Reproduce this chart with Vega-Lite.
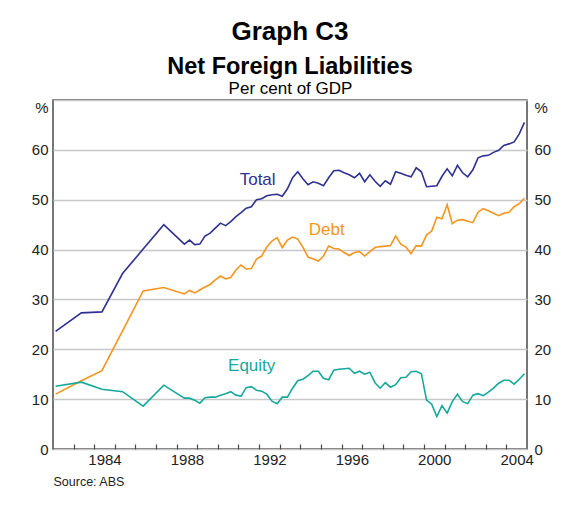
{
  "$schema": "https://vega.github.io/schema/vega-lite/v6.json",
  "width": 474,
  "height": 349,
  "autosize": "none",
  "padding": {"left": 53, "top": 100, "right": 43, "bottom": 58},
  "background": "white",
  "config": {
    "view": {"stroke": "#4a4a4a", "strokeWidth": 1.5},
    "font": "Liberation Sans"
  },
  "title": {
    "text": "Graph C3",
    "subtitle": "Net Foreign Liabilities",
    "fontSize": 26,
    "fontWeight": "bold",
    "color": "#000000",
    "subtitleFontSize": 23.5,
    "subtitleFontWeight": "bold",
    "subtitleColor": "#000000",
    "subtitleFont": "Liberation Sans",
    "font": "Liberation Sans",
    "anchor": "middle",
    "offset": 1,
    "subtitlePadding": 10
  },
  "datasets": {
    "series": [
      {"s": "Total", "t": 1982.125, "v": 23.6},
      {"s": "Total", "t": 1983.375, "v": 27.3},
      {"s": "Total", "t": 1984.375, "v": 27.5},
      {"s": "Total", "t": 1985.375, "v": 35.2},
      {"s": "Total", "t": 1986.375, "v": 40.1},
      {"s": "Total", "t": 1987.375, "v": 45.0},
      {"s": "Total", "t": 1988.375, "v": 41.1},
      {"s": "Total", "t": 1988.625, "v": 41.9},
      {"s": "Total", "t": 1988.875, "v": 41.0},
      {"s": "Total", "t": 1989.125, "v": 41.1},
      {"s": "Total", "t": 1989.375, "v": 42.7},
      {"s": "Total", "t": 1989.625, "v": 43.3},
      {"s": "Total", "t": 1989.875, "v": 44.3},
      {"s": "Total", "t": 1990.125, "v": 45.3},
      {"s": "Total", "t": 1990.375, "v": 44.8},
      {"s": "Total", "t": 1990.625, "v": 45.6},
      {"s": "Total", "t": 1990.875, "v": 46.6},
      {"s": "Total", "t": 1991.125, "v": 47.4},
      {"s": "Total", "t": 1991.375, "v": 48.3},
      {"s": "Total", "t": 1991.625, "v": 48.6},
      {"s": "Total", "t": 1991.875, "v": 50.0},
      {"s": "Total", "t": 1992.125, "v": 50.2},
      {"s": "Total", "t": 1992.375, "v": 50.8},
      {"s": "Total", "t": 1992.625, "v": 51.0},
      {"s": "Total", "t": 1992.875, "v": 51.1},
      {"s": "Total", "t": 1993.125, "v": 50.7},
      {"s": "Total", "t": 1993.375, "v": 52.2},
      {"s": "Total", "t": 1993.625, "v": 54.4},
      {"s": "Total", "t": 1993.875, "v": 55.6},
      {"s": "Total", "t": 1994.125, "v": 54.2},
      {"s": "Total", "t": 1994.375, "v": 53.0},
      {"s": "Total", "t": 1994.625, "v": 53.6},
      {"s": "Total", "t": 1994.875, "v": 53.3},
      {"s": "Total", "t": 1995.125, "v": 52.8},
      {"s": "Total", "t": 1995.375, "v": 54.4},
      {"s": "Total", "t": 1995.625, "v": 55.8},
      {"s": "Total", "t": 1995.875, "v": 55.9},
      {"s": "Total", "t": 1996.125, "v": 55.4},
      {"s": "Total", "t": 1996.375, "v": 55.0},
      {"s": "Total", "t": 1996.625, "v": 54.4},
      {"s": "Total", "t": 1996.875, "v": 55.3},
      {"s": "Total", "t": 1997.125, "v": 53.6},
      {"s": "Total", "t": 1997.375, "v": 55.0},
      {"s": "Total", "t": 1997.625, "v": 53.7},
      {"s": "Total", "t": 1997.875, "v": 52.7},
      {"s": "Total", "t": 1998.125, "v": 53.8},
      {"s": "Total", "t": 1998.375, "v": 53.1},
      {"s": "Total", "t": 1998.625, "v": 55.6},
      {"s": "Total", "t": 1998.875, "v": 55.3},
      {"s": "Total", "t": 1999.125, "v": 54.9},
      {"s": "Total", "t": 1999.375, "v": 54.6},
      {"s": "Total", "t": 1999.625, "v": 56.4},
      {"s": "Total", "t": 1999.875, "v": 55.6},
      {"s": "Total", "t": 2000.125, "v": 52.6},
      {"s": "Total", "t": 2000.375, "v": 52.7},
      {"s": "Total", "t": 2000.625, "v": 52.8},
      {"s": "Total", "t": 2000.875, "v": 54.7},
      {"s": "Total", "t": 2001.125, "v": 56.2},
      {"s": "Total", "t": 2001.375, "v": 54.8},
      {"s": "Total", "t": 2001.625, "v": 56.9},
      {"s": "Total", "t": 2001.875, "v": 55.4},
      {"s": "Total", "t": 2002.125, "v": 54.6},
      {"s": "Total", "t": 2002.375, "v": 56.0},
      {"s": "Total", "t": 2002.625, "v": 58.4},
      {"s": "Total", "t": 2002.875, "v": 58.8},
      {"s": "Total", "t": 2003.125, "v": 58.9},
      {"s": "Total", "t": 2003.375, "v": 59.5},
      {"s": "Total", "t": 2003.625, "v": 59.9},
      {"s": "Total", "t": 2003.875, "v": 60.9},
      {"s": "Total", "t": 2004.125, "v": 61.2},
      {"s": "Total", "t": 2004.375, "v": 61.6},
      {"s": "Total", "t": 2004.625, "v": 63.2},
      {"s": "Total", "t": 2004.875, "v": 65.5},
      {"s": "Debt", "t": 1982.125, "v": 11.0},
      {"s": "Debt", "t": 1983.375, "v": 13.7},
      {"s": "Debt", "t": 1984.375, "v": 15.7},
      {"s": "Debt", "t": 1985.375, "v": 23.7},
      {"s": "Debt", "t": 1986.375, "v": 31.7},
      {"s": "Debt", "t": 1987.375, "v": 32.4},
      {"s": "Debt", "t": 1988.375, "v": 31.1},
      {"s": "Debt", "t": 1988.625, "v": 31.8},
      {"s": "Debt", "t": 1988.875, "v": 31.3},
      {"s": "Debt", "t": 1989.125, "v": 31.9},
      {"s": "Debt", "t": 1989.375, "v": 32.5},
      {"s": "Debt", "t": 1989.625, "v": 33.0},
      {"s": "Debt", "t": 1989.875, "v": 33.9},
      {"s": "Debt", "t": 1990.125, "v": 34.7},
      {"s": "Debt", "t": 1990.375, "v": 34.1},
      {"s": "Debt", "t": 1990.625, "v": 34.4},
      {"s": "Debt", "t": 1990.875, "v": 35.9},
      {"s": "Debt", "t": 1991.125, "v": 36.9},
      {"s": "Debt", "t": 1991.375, "v": 36.1},
      {"s": "Debt", "t": 1991.625, "v": 36.2},
      {"s": "Debt", "t": 1991.875, "v": 38.1},
      {"s": "Debt", "t": 1992.125, "v": 38.7},
      {"s": "Debt", "t": 1992.375, "v": 40.5},
      {"s": "Debt", "t": 1992.625, "v": 41.7},
      {"s": "Debt", "t": 1992.875, "v": 42.4},
      {"s": "Debt", "t": 1993.125, "v": 40.4},
      {"s": "Debt", "t": 1993.375, "v": 41.9},
      {"s": "Debt", "t": 1993.625, "v": 42.5},
      {"s": "Debt", "t": 1993.875, "v": 42.1},
      {"s": "Debt", "t": 1994.125, "v": 40.5},
      {"s": "Debt", "t": 1994.375, "v": 38.5},
      {"s": "Debt", "t": 1994.625, "v": 38.1},
      {"s": "Debt", "t": 1994.875, "v": 37.7},
      {"s": "Debt", "t": 1995.125, "v": 38.7},
      {"s": "Debt", "t": 1995.375, "v": 40.7},
      {"s": "Debt", "t": 1995.625, "v": 40.2},
      {"s": "Debt", "t": 1995.875, "v": 40.1},
      {"s": "Debt", "t": 1996.125, "v": 39.4},
      {"s": "Debt", "t": 1996.375, "v": 38.8},
      {"s": "Debt", "t": 1996.625, "v": 39.4},
      {"s": "Debt", "t": 1996.875, "v": 39.6},
      {"s": "Debt", "t": 1997.125, "v": 38.7},
      {"s": "Debt", "t": 1997.375, "v": 39.6},
      {"s": "Debt", "t": 1997.625, "v": 40.4},
      {"s": "Debt", "t": 1997.875, "v": 40.6},
      {"s": "Debt", "t": 1998.125, "v": 40.7},
      {"s": "Debt", "t": 1998.375, "v": 40.8},
      {"s": "Debt", "t": 1998.625, "v": 42.7},
      {"s": "Debt", "t": 1998.875, "v": 41.1},
      {"s": "Debt", "t": 1999.125, "v": 40.5},
      {"s": "Debt", "t": 1999.375, "v": 39.2},
      {"s": "Debt", "t": 1999.625, "v": 40.8},
      {"s": "Debt", "t": 1999.875, "v": 40.7},
      {"s": "Debt", "t": 2000.125, "v": 42.9},
      {"s": "Debt", "t": 2000.375, "v": 43.7},
      {"s": "Debt", "t": 2000.625, "v": 46.5},
      {"s": "Debt", "t": 2000.875, "v": 46.2},
      {"s": "Debt", "t": 2001.125, "v": 49.0},
      {"s": "Debt", "t": 2001.375, "v": 45.2},
      {"s": "Debt", "t": 2001.625, "v": 45.9},
      {"s": "Debt", "t": 2001.875, "v": 46.0},
      {"s": "Debt", "t": 2002.125, "v": 45.7},
      {"s": "Debt", "t": 2002.375, "v": 45.4},
      {"s": "Debt", "t": 2002.625, "v": 47.5},
      {"s": "Debt", "t": 2002.875, "v": 48.2},
      {"s": "Debt", "t": 2003.125, "v": 47.8},
      {"s": "Debt", "t": 2003.375, "v": 47.3},
      {"s": "Debt", "t": 2003.625, "v": 46.8},
      {"s": "Debt", "t": 2003.875, "v": 47.3},
      {"s": "Debt", "t": 2004.125, "v": 47.5},
      {"s": "Debt", "t": 2004.375, "v": 48.6},
      {"s": "Debt", "t": 2004.625, "v": 49.2},
      {"s": "Debt", "t": 2004.875, "v": 50.3},
      {"s": "Equity", "t": 1982.125, "v": 12.6},
      {"s": "Equity", "t": 1983.375, "v": 13.4},
      {"s": "Equity", "t": 1984.375, "v": 12.0},
      {"s": "Equity", "t": 1985.375, "v": 11.5},
      {"s": "Equity", "t": 1986.375, "v": 8.6},
      {"s": "Equity", "t": 1987.375, "v": 12.8},
      {"s": "Equity", "t": 1988.375, "v": 10.2},
      {"s": "Equity", "t": 1988.625, "v": 10.2},
      {"s": "Equity", "t": 1988.875, "v": 9.8},
      {"s": "Equity", "t": 1989.125, "v": 9.2},
      {"s": "Equity", "t": 1989.375, "v": 10.3},
      {"s": "Equity", "t": 1989.625, "v": 10.4},
      {"s": "Equity", "t": 1989.875, "v": 10.4},
      {"s": "Equity", "t": 1990.125, "v": 10.8},
      {"s": "Equity", "t": 1990.375, "v": 11.1},
      {"s": "Equity", "t": 1990.625, "v": 11.5},
      {"s": "Equity", "t": 1990.875, "v": 10.8},
      {"s": "Equity", "t": 1991.125, "v": 10.6},
      {"s": "Equity", "t": 1991.375, "v": 12.3},
      {"s": "Equity", "t": 1991.625, "v": 12.5},
      {"s": "Equity", "t": 1991.875, "v": 11.8},
      {"s": "Equity", "t": 1992.125, "v": 11.6},
      {"s": "Equity", "t": 1992.375, "v": 11.0},
      {"s": "Equity", "t": 1992.625, "v": 9.6},
      {"s": "Equity", "t": 1992.875, "v": 9.1},
      {"s": "Equity", "t": 1993.125, "v": 10.4},
      {"s": "Equity", "t": 1993.375, "v": 10.4},
      {"s": "Equity", "t": 1993.625, "v": 12.2},
      {"s": "Equity", "t": 1993.875, "v": 13.7},
      {"s": "Equity", "t": 1994.125, "v": 14.0},
      {"s": "Equity", "t": 1994.375, "v": 14.7},
      {"s": "Equity", "t": 1994.625, "v": 15.6},
      {"s": "Equity", "t": 1994.875, "v": 15.6},
      {"s": "Equity", "t": 1995.125, "v": 14.2},
      {"s": "Equity", "t": 1995.375, "v": 13.9},
      {"s": "Equity", "t": 1995.625, "v": 15.8},
      {"s": "Equity", "t": 1995.875, "v": 16.0},
      {"s": "Equity", "t": 1996.125, "v": 16.1},
      {"s": "Equity", "t": 1996.375, "v": 16.2},
      {"s": "Equity", "t": 1996.625, "v": 15.2},
      {"s": "Equity", "t": 1996.875, "v": 15.6},
      {"s": "Equity", "t": 1997.125, "v": 15.0},
      {"s": "Equity", "t": 1997.375, "v": 15.4},
      {"s": "Equity", "t": 1997.625, "v": 13.3},
      {"s": "Equity", "t": 1997.875, "v": 12.2},
      {"s": "Equity", "t": 1998.125, "v": 13.3},
      {"s": "Equity", "t": 1998.375, "v": 12.4},
      {"s": "Equity", "t": 1998.625, "v": 12.9},
      {"s": "Equity", "t": 1998.875, "v": 14.3},
      {"s": "Equity", "t": 1999.125, "v": 14.4},
      {"s": "Equity", "t": 1999.375, "v": 15.5},
      {"s": "Equity", "t": 1999.625, "v": 15.6},
      {"s": "Equity", "t": 1999.875, "v": 15.1},
      {"s": "Equity", "t": 2000.125, "v": 9.8},
      {"s": "Equity", "t": 2000.375, "v": 9.0},
      {"s": "Equity", "t": 2000.625, "v": 6.5},
      {"s": "Equity", "t": 2000.875, "v": 8.7},
      {"s": "Equity", "t": 2001.125, "v": 7.2},
      {"s": "Equity", "t": 2001.375, "v": 9.5},
      {"s": "Equity", "t": 2001.625, "v": 11.0},
      {"s": "Equity", "t": 2001.875, "v": 9.5},
      {"s": "Equity", "t": 2002.125, "v": 9.1},
      {"s": "Equity", "t": 2002.375, "v": 10.8},
      {"s": "Equity", "t": 2002.625, "v": 11.1},
      {"s": "Equity", "t": 2002.875, "v": 10.7},
      {"s": "Equity", "t": 2003.125, "v": 11.4},
      {"s": "Equity", "t": 2003.375, "v": 12.2},
      {"s": "Equity", "t": 2003.625, "v": 13.2},
      {"s": "Equity", "t": 2003.875, "v": 13.8},
      {"s": "Equity", "t": 2004.125, "v": 13.8},
      {"s": "Equity", "t": 2004.375, "v": 13.0},
      {"s": "Equity", "t": 2004.625, "v": 14.0},
      {"s": "Equity", "t": 2004.875, "v": 15.1}
    ],
    "labels": [
      {"s": "Total", "t": 1991.93, "v": 53.9},
      {"s": "Debt", "t": 1995.28, "v": 44.0},
      {"s": "Equity", "t": 1991.64, "v": 16.6}
    ]
  },
  "layer": [
    {
      "data": {"name": "series"},
      "mark": {"type": "line", "strokeWidth": 1.6, "clip": true},
      "encoding": {
        "x": {
          "field": "t",
          "type": "quantitative",
          "scale": {"domain": [1982, 2005], "nice": false, "zero": false},
          "axis": {
            "orient": "bottom",
            "values": [1983, 1984, 1985, 1986, 1987, 1988, 1989, 1990, 1991, 1992, 1993, 1994, 1995, 1996, 1997, 1998, 1999, 2000, 2001, 2002, 2003, 2004, 1984.5, 1988.5, 1992.5, 1996.5, 2000.5, 2004.5],
            "labelExpr": "(datum.value % 1) > 0.25 ? '' + floor(datum.value) : ''",
            "tickOpacity": {"condition": {"test": "(datum.value % 1) > 0.25", "value": 0}, "value": 1},
            "tickSize": -5,
            "tickColor": "#4a4a4a",
            "tickWidth": 1.2,
            "domain": false,
            "grid": false,
            "labelFontSize": 15,
            "labelColor": "#222222",
            "labelPadding": 8,
            "labelFlush": false,
            "labelOverlap": false,
            "title": "Source: ABS",
            "titleFontSize": 12.5,
            "titleFontWeight": "normal",
            "titleColor": "#222222",
            "titleAnchor": "start",
            "titleAlign": "left",
            "titlePadding": 8
          }
        },
        "y": {
          "field": "v",
          "type": "quantitative",
          "scale": {"domain": [0, 70], "nice": false},
          "axis": {
            "orient": "left",
            "values": [0, 10, 20, 30, 40, 50, 60, 70],
            "labelExpr": "datum.value == 70 ? '%' : datum.label",
            "labelBaseline": {"condition": {"test": "datum.value == 70", "value": "top"}, "value": "middle"},
            "ticks": false,
            "domain": false,
            "grid": true,
            "gridColor": "#c8c8c8",
            "gridWidth": 1.3,
            "labelFontSize": 15,
            "labelColor": "#222222",
            "labelPadding": 5,
            "title": null
          }
        },
        "color": {
          "field": "s",
          "type": "nominal",
          "scale": {"domain": ["Total", "Debt", "Equity"], "range": ["#2e3192", "#f7941d", "#16a89c"]},
          "legend": null
        }
      }
    },
    {
      "data": {"name": "labels"},
      "mark": {"type": "text", "fontSize": 17, "font": "Liberation Sans"},
      "encoding": {
        "x": {
          "field": "t",
          "type": "quantitative",
          "scale": {"domain": [1982, 2005], "nice": false, "zero": false},
          "axis": {
            "orient": "top",
            "ticks": false,
            "labels": false,
            "domain": false,
            "grid": false,
            "title": "Per cent of GDP",
            "titleFontSize": 17,
            "titleFontWeight": "normal",
            "titleColor": "#000000",
            "titlePadding": 3
          }
        },
        "y": {
          "field": "v",
          "type": "quantitative",
          "scale": {"domain": [0, 70], "nice": false},
          "axis": {
            "orient": "right",
            "values": [0, 10, 20, 30, 40, 50, 60, 70],
            "labelExpr": "datum.value == 70 ? '%' : datum.label",
            "labelBaseline": {"condition": {"test": "datum.value == 70", "value": "top"}, "value": "middle"},
            "ticks": false,
            "domain": false,
            "grid": false,
            "labelFontSize": 15,
            "labelColor": "#222222",
            "labelPadding": 7,
            "title": null
          }
        },
        "text": {"field": "s"},
        "color": {"field": "s", "type": "nominal", "legend": null}
      }
    }
  ],
  "resolve": {"axis": {"x": "independent", "y": "independent"}}
}
